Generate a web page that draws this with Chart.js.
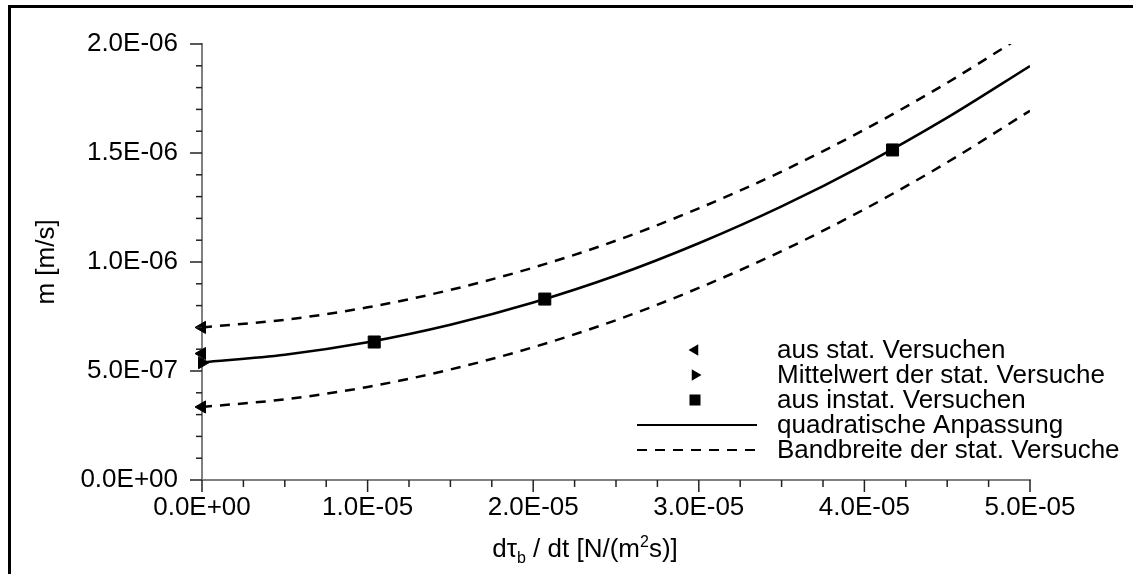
<!DOCTYPE html>
<html>
<head>
<meta charset="utf-8">
<script src="https://cdn.jsdelivr.net/npm/chart.js@4/dist/chart.umd.min.js"></script>
<style>
    html, body { margin: 0; padding: 0; background: #fff; overflow: hidden; }
    #wrap { position: relative; width: 1133px; height: 574px; overflow: hidden; }
    .edge { position: absolute; background: #000; pointer-events: none; }
</style>
</head>
<body>
<div id="wrap">
    <canvas id="chart" width="1133" height="574"></canvas>
    <div class="edge" style="left:8px;top:5px;width:1125px;height:3px"></div>
    <div class="edge" style="left:8px;top:5px;width:3px;height:569px"></div>
</div>
<script>
// values
const fitX = [0, 0.5e-5, 1.0e-5, 1.5e-5, 2.0e-5, 2.5e-5, 3.0e-5, 3.5e-5, 4.0e-5, 4.5e-5, 5.0e-5];
const fitY = [5.40e-7, 5.75e-7, 6.32e-7, 7.12e-7, 8.14e-7, 9.38e-7, 1.086e-6, 1.255e-6, 1.447e-6, 1.662e-6, 1.899e-6];
const bandUpper = [7.00e-7, 7.35e-7, 7.92e-7, 8.72e-7, 9.74e-7, 1.098e-6, 1.246e-6, 1.415e-6, 1.607e-6, 1.822e-6, 2.059e-6];
const bandLower = [3.35e-7, 3.70e-7, 4.27e-7, 5.07e-7, 6.09e-7, 7.33e-7, 8.81e-7, 1.050e-6, 1.242e-6, 1.457e-6, 1.694e-6];

const statX = [0, 0, 0];
const statY = [7.00e-7, 5.80e-7, 3.35e-7];
const meanX = [0];
const meanY = [5.38e-7];
const instatX = [1.04e-5, 2.07e-5, 4.17e-5];
const instatY = [6.33e-7, 8.30e-7, 1.514e-6];

const xTicks = [0, 1e-5, 2e-5, 3e-5, 4e-5, 5e-5];
const yTicks = [0, 0.5e-6, 1.0e-6, 1.5e-6, 2.0e-6];
const xMinorPerMajor = 4;
const yMinorPerMajor = 5;

const labels = ['aus stat. Versuchen', 'Mittelwert der stat. Versuche', 'aus instat. Versuchen',
                'quadratische Anpassung', 'Bandbreite der stat. Versuche'];

const FONT = '"Liberation Sans", Arial, sans-serif';
const FS = 26;
const DASH = [10, 8];

function pts(xs, ys) {
    return xs.map((x, i) => ({ x: x, y: ys[i] }));
}

// 2.0E-06 style labels
function fmt(v) {
    let parts = Number(v).toExponential(1).split('e');
    let exp = parts[1];
    return parts[0] + 'E' + exp[0] + exp.slice(1).padStart(2, '0');
}

function drawTriangle(ctx, x, y, r, dir) {
    // dir = -1 points left, 1 points right
    ctx.beginPath();
    ctx.moveTo(x + dir * r, y);
    ctx.lineTo(x - dir * r * 0.5, y - r * 0.866);
    ctx.lineTo(x - dir * r * 0.5, y + r * 0.866);
    ctx.closePath();
    ctx.fill();
}

const decor = {
    id: 'decor',
    afterDraw(chart) {
        const ctx = chart.ctx;
        const xs = chart.scales.x, ys = chart.scales.y;
        const area = chart.chartArea;
        ctx.save();

        // tick marks, major and minor
        ctx.strokeStyle = '#222';
        ctx.lineWidth = 1.5;
        for (let i = 0; i < xTicks.length; i++) {
            let px = xs.getPixelForValue(xTicks[i]);
            ctx.beginPath(); ctx.moveTo(px, area.bottom); ctx.lineTo(px, area.bottom + 12); ctx.stroke();
            if (i < xTicks.length - 1) {
                let step = (xTicks[i + 1] - xTicks[i]) / xMinorPerMajor;
                for (let k = 1; k < xMinorPerMajor; k++) {
                    let mx = xs.getPixelForValue(xTicks[i] + k * step);
                    ctx.beginPath(); ctx.moveTo(mx, area.bottom); ctx.lineTo(mx, area.bottom + 7); ctx.stroke();
                }
            }
        }
        for (let i = 0; i < yTicks.length; i++) {
            let py = ys.getPixelForValue(yTicks[i]);
            ctx.beginPath(); ctx.moveTo(area.left, py); ctx.lineTo(area.left - 12, py); ctx.stroke();
            if (i < yTicks.length - 1) {
                let step = (yTicks[i + 1] - yTicks[i]) / yMinorPerMajor;
                for (let k = 1; k < yMinorPerMajor; k++) {
                    let my = ys.getPixelForValue(yTicks[i] + k * step);
                    ctx.beginPath(); ctx.moveTo(area.left, my); ctx.lineTo(area.left - 6, my); ctx.stroke();
                }
            }
        }

        // axis titles
        ctx.fillStyle = '#000';
        ctx.textBaseline = 'alphabetic';
        const big = FS + 'px ' + FONT, small = '16px ' + FONT;
        const pieces = [
            ['d\u03C4', big, 0], ['b', small, 6], [' / dt [N/(m', big, 0], ['2', small, -10], ['s)]', big, 0]
        ];
        let total = 0;
        pieces.forEach(p => { ctx.font = p[1]; total += ctx.measureText(p[0]).width; });
        let tx = 585 - total / 2, base = 557;
        ctx.textAlign = 'left';
        pieces.forEach(p => {
            ctx.font = p[1];
            ctx.fillText(p[0], tx, base + p[2]);
            tx += ctx.measureText(p[0]).width;
        });

        ctx.save();
        ctx.translate(47, 262);
        ctx.rotate(-Math.PI / 2);
        ctx.font = big;
        ctx.textAlign = 'center';
        ctx.textBaseline = 'middle';
        ctx.fillText('m [m/s]', 0, 0);
        ctx.restore();

        // legend
        const ds = chart.data.datasets;
        const order = [5, 4, 3, 2, 0];
        const symX = 695, lineL = 637, lineR = 757, textX = 777;
        ctx.font = big;
        ctx.textAlign = 'left';
        ctx.textBaseline = 'middle';
        order.forEach((di, row) => {
            const d = ds[di];
            const cy = 350 + row * 25;
            ctx.fillStyle = '#000';
            ctx.strokeStyle = '#000';
            if (d.showLine === false) {
                if (d.pointStyle === 'rect') {
                    ctx.fillRect(symX - 5.5, cy - 5.5, 11, 11);
                } else {
                    drawTriangle(ctx, symX, cy, 6.5, d.pointRotation === 270 ? -1 : 1);
                }
            } else {
                ctx.lineWidth = 2;
                ctx.setLineDash(d.borderDash || []);
                ctx.beginPath(); ctx.moveTo(lineL, cy); ctx.lineTo(lineR, cy); ctx.stroke();
                ctx.setLineDash([]);
            }
            ctx.fillText(d.label, textX, cy + 1);
        });
        ctx.restore();
    }
};

const ctx = document.getElementById('chart').getContext('2d');
new Chart(ctx, {
    type: 'scatter',
    data: {
        datasets: [
            {   // 0
                label: labels[4], data: pts(fitX, bandUpper), showLine: true, pointRadius: 0,
                borderColor: '#000', borderWidth: 2.5, borderDash: DASH, cubicInterpolationMode: 'monotone'
            },
            {   // 1
                label: labels[4], data: pts(fitX, bandLower), showLine: true, pointRadius: 0,
                borderColor: '#000', borderWidth: 2.5, borderDash: DASH, cubicInterpolationMode: 'monotone'
            },
            {   // 2
                label: labels[3], data: pts(fitX, fitY), showLine: true, pointRadius: 0,
                borderColor: '#000', borderWidth: 2.5, cubicInterpolationMode: 'monotone'
            },
            {   // 3
                label: labels[2], data: pts(instatX, instatY), showLine: false, clip: false,
                pointStyle: 'rect', pointRadius: 8.5, pointBorderWidth: 1,
                backgroundColor: '#000', borderColor: '#000'
            },
            {   // 4
                label: labels[1], data: pts(meanX, meanY), showLine: false, clip: false,
                pointStyle: 'triangle', pointRotation: 90, pointRadius: 7, pointBorderWidth: 1,
                backgroundColor: '#000', borderColor: '#000'
            },
            {   // 5
                label: labels[0], data: pts(statX, statY), showLine: false, clip: false,
                pointStyle: 'triangle', pointRotation: 270, pointRadius: 7, pointBorderWidth: 1,
                backgroundColor: '#000', borderColor: '#000'
            }
        ]
    },
    options: {
        responsive: false,
        animation: false,
        events: [],
        layout: { padding: { left: 0, top: 44, right: 103, bottom: 0 } },
        plugins: { legend: { display: false }, tooltip: { enabled: false } },
        scales: {
            x: {
                type: 'linear', min: 0, max: 5e-5,
                afterBuildTicks: s => { s.ticks = xTicks.map(v => ({ value: v })); },
                afterFit: s => { s.height = 94; },
                grid: { display: false, drawTicks: false },
                border: { display: true, color: '#808080', width: 2 },
                ticks: { color: '#000', padding: 12, maxRotation: 0, autoSkip: false,
                         font: { family: FONT, size: FS }, callback: v => fmt(v) }
            },
            y: {
                type: 'linear', min: 0, max: 2e-6,
                afterBuildTicks: s => { s.ticks = yTicks.map(v => ({ value: v })); },
                afterFit: s => { s.width = 202; },
                grid: { display: false, drawTicks: false },
                border: { display: true, color: '#808080', width: 2 },
                ticks: { color: '#000', padding: 24, autoSkip: false,
                         font: { family: FONT, size: FS }, callback: v => fmt(v) }
            }
        }
    },
    plugins: [decor]
});
</script>
</body>
</html>
